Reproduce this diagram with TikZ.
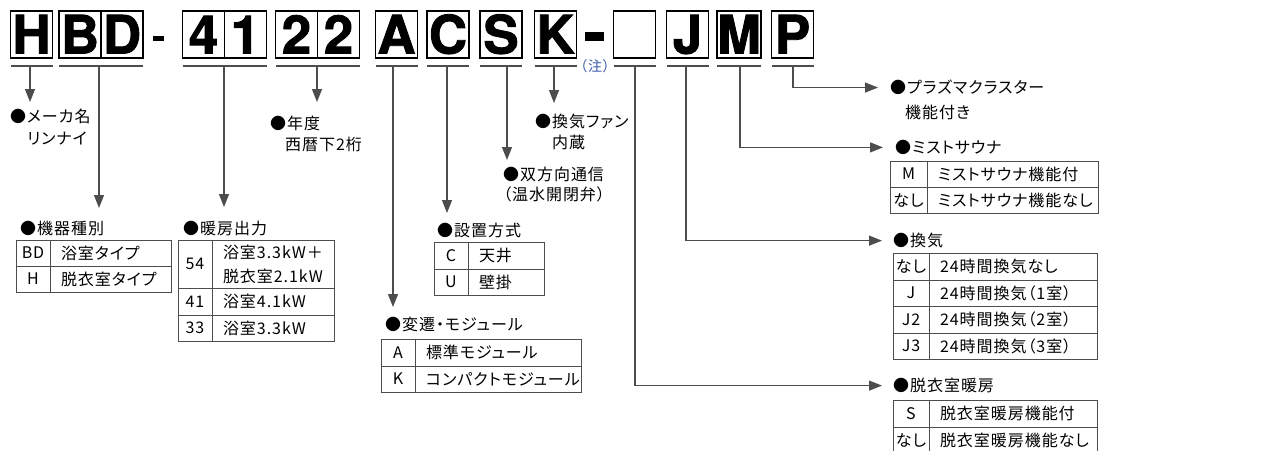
\documentclass[tikz,border=0pt]{standalone}
\usepackage{fontspec}
\setmainfont{Noto Sans CJK JP}[RawFeature=+palt, LetterSpace=6]
\newfontfamily\codefont{TeX Gyre Heros}[BoldFeatures={FakeBold=1.6}]
\usetikzlibrary{arrows.meta, positioning, calc}
\definecolor{leadgray}{HTML}{4D4D4D}
\definecolor{notecolor}{HTML}{3A5BA8}
\tikzstyle{codebox} = [draw, line width=1.4pt, outer sep=0pt, inner sep=0pt,
   minimum width=42pt, minimum height=47pt, text height=38pt, text depth=0pt,
   font=\codefont\bfseries\fontsize{53}{53}\selectfont]
\tikzstyle{uline} = [leadgray, line width=1.6pt]
\tikzstyle{lead} = [leadgray, line width=1.1pt, -{Triangle[width=10pt,length=13pt]}]
\tikzstyle{lbl} = [inner sep=0pt, anchor=north west, font=\fontsize{16}{23}\selectfont]
\tikzstyle{keycell} = [draw=leadgray, line width=1pt, outer sep=0pt, inner sep=0pt,
   minimum width=34pt, minimum height=26pt, anchor=north west,
   font=\fontsize{16}{24}\selectfont]
\tikzstyle{valcell} = [draw=leadgray, line width=1pt, outer sep=0pt, inner xsep=11pt,
   inner ysep=0pt, minimum height=26pt, align=left, font=\fontsize{16}{24}\selectfont]
\begin{document}
\begin{tikzpicture}[x=1pt, y=-1pt]
  \useasboundingbox (0,0) rectangle (1265,450);
  % model code
  \node[codebox] (cH) at (31.5,34.5) {H};
  \node[codebox] (cB) at (80,34.5) {B};
  \node[codebox, right=0pt of cB] (cD) {D};
  \node[fill=black, inner sep=0pt, minimum width=11pt, minimum height=5pt] (sep1) at (158.5,38) {};
  \node[codebox] (c4) at (203.5,34.5) {4};
  \node[codebox, right=0pt of c4] (c1) {1};
  \node[codebox] (c2a) at (296.5,34.5) {2};
  \node[codebox, right=0pt of c2a] (c2b) {2};
  \node[codebox] (cA) at (396.5,34.5) {A};
  \node[codebox] (cC) at (448,34.5) {C};
  \node[codebox] (cS) at (501,34.5) {S};
  \node[codebox] (cK) at (555.5,34.5) {K};
  \node[fill=black, inner sep=0pt, minimum width=19pt, minimum height=9pt] (sep2) at (594.5,36.5) {};
  \node[codebox] (cBlank) at (634.5,34.5) {};
  \node[codebox] (cJ) at (687.5,34.5) {J};
  \node[codebox] (cM) at (739,34.5) {M};
  \node[codebox] (cP) at (792.5,34.5) {P};
  \node[inner sep=0pt, text=notecolor, font=\fontsize{14}{14}\selectfont] (note) at (595,66) {（注）};

  % underlines
  \draw[uline] ([yshift=-8pt]cH.south west) -- ([yshift=-8pt]cH.south east);
  \draw[uline] ([yshift=-8pt]cB.south west) -- ([yshift=-8pt]cD.south east);
  \draw[uline] ([yshift=-8pt]c4.south west) -- ([yshift=-8pt]c1.south east);
  \draw[uline] ([yshift=-8pt]c2a.south west) -- ([yshift=-8pt]c2b.south east);
  \foreach \c in {cA,cC,cS,cK,cBlank,cJ,cM,cP}
    \draw[uline] ([yshift=-8pt]\c.south west) -- ([yshift=-8pt]\c.south east);

  \coordinate (uH) at (30,66);
  \coordinate (uBD) at (99,66);
  \coordinate (u41) at (224,66);
  \coordinate (u22) at (317,66);
  \coordinate (uA) at (393,66);
  \coordinate (uC) at (447,66);
  \coordinate (uS) at (507,66);
  \coordinate (uK) at (554,66);
  \coordinate (uBlank) at (635,66);
  \coordinate (uJ) at (686,66);
  \coordinate (uM) at (740,66);
  \coordinate (uP) at (793,66);

  % plain labels
  \node[lbl] (makerLbl) at (10,109) {●メーカ名};
  \node[lbl] (makerLbl2) at (27,132) {リンナイ};
  \node[lbl] (yearLbl) at (270,116) {●年度};
  \node[lbl] (yearLbl2) at (285,137) {西暦下2桁};
  \node[lbl] (fanLbl) at (535,114) {●換気ファン};
  \node[lbl] (fanLbl2) at (552,135) {内蔵};
  \node[lbl] (commLbl) at (503,167) {●双方向通信};
  \node[lbl] (commLbl2) at (503,187) {（温水開閉弁）};
  \node[lbl] (plasmaLbl) at (890,80) {●プラズマクラスター};
  \node[lbl] (plasmaLbl2) at (905,105) {機能付き};

  % table: kiki
  \node[lbl] (kikiLbl) at (20,221) {●機器種別};
  \node[keycell] (kikiK1) at (16,240) {BD};
  \node[valcell, text width=99pt, right=0pt of kikiK1] (kikiV1) {浴室タイプ};
  \node[keycell, below=0pt of kikiK1] (kikiK2) {H};
  \node[valcell, text width=99pt, right=0pt of kikiK2] (kikiV2) {脱衣室タイプ};

  % table: danbo
  \node[lbl] (danboLbl) at (183,221) {●暖房出力};
  \node[keycell, minimum height=48pt] (danboK1) at (178,240) {54};
  \node[valcell, text width=100pt, minimum height=48pt, right=0pt of danboK1] (danboV1) {浴室3.3kW＋\\脱衣室2.1kW};
  \node[keycell, minimum height=27pt, below=0pt of danboK1] (danboK2) {41};
  \node[valcell, text width=100pt, minimum height=27pt, right=0pt of danboK2] (danboV2) {浴室4.1kW};
  \node[keycell, below=0pt of danboK2] (danboK3) {33};
  \node[valcell, text width=100pt, right=0pt of danboK3] (danboV3) {浴室3.3kW};

  % table: setchi
  \node[lbl] (setchiLbl) at (437,223) {●設置方式};
  \node[keycell, minimum height=27pt] (setchiK1) at (434,242) {C};
  \node[valcell, text width=54pt, minimum height=27pt, right=0pt of setchiK1] (setchiV1) {天井};
  \node[keycell, below=0pt of setchiK1] (setchiK2) {U};
  \node[valcell, text width=54pt, right=0pt of setchiK2] (setchiV2) {壁掛};

  % table: hensen
  \node[lbl] (hensenLbl) at (385,317) {●変遷・モジュール};
  \node[keycell, minimum height=27pt] (hensenK1) at (381,339) {A};
  \node[valcell, text width=144pt, minimum height=27pt, right=0pt of hensenK1] (hensenV1) {標準モジュール};
  \node[keycell, below=0pt of hensenK1] (hensenK2) {K};
  \node[valcell, text width=144pt, right=0pt of hensenK2] (hensenV2) {コンパクトモジュール};

  % table: mist
  \node[lbl] (mistLbl) at (895,140) {●ミストサウナ};
  \node[keycell, minimum width=37pt] (mistK1) at (890,161) {M};
  \node[valcell, text width=149pt, right=0pt of mistK1] (mistV1) {ミストサウナ機能付};
  \node[keycell, minimum width=37pt, below=0pt of mistK1] (mistK2) {なし};
  \node[valcell, text width=149pt, right=0pt of mistK2] (mistV2) {ミストサウナ機能なし};

  % table: kanki
  \node[lbl] (kankiLbl) at (893,233) {●換気};
  \node[keycell, minimum width=36pt, minimum height=27pt] (kankiK1) at (893,253) {なし};
  \node[valcell, text width=146pt, minimum height=27pt, right=0pt of kankiK1] (kankiV1) {24時間換気なし};
  \node[keycell, minimum width=36pt, below=0pt of kankiK1] (kankiK2) {J};
  \node[valcell, text width=146pt, right=0pt of kankiK2] (kankiV2) {24時間換気（1室）};
  \node[keycell, minimum width=36pt, minimum height=27pt, below=0pt of kankiK2] (kankiK3) {J2};
  \node[valcell, text width=146pt, minimum height=27pt, right=0pt of kankiK3] (kankiV3) {24時間換気（2室）};
  \node[keycell, minimum width=36pt, below=0pt of kankiK3] (kankiK4) {J3};
  \node[valcell, text width=146pt, right=0pt of kankiK4] (kankiV4) {24時間換気（3室）};

  % table: datsui
  \node[lbl] (datsuiLbl) at (893,378) {●脱衣室暖房};
  \node[keycell, minimum width=36pt, minimum height=27pt] (datsuiK1) at (893,400) {S};
  \node[valcell, text width=146pt, minimum height=27pt, right=0pt of datsuiK1] (datsuiV1) {脱衣室暖房機能付};
  \node[keycell, minimum width=36pt, minimum height=27pt, below=0pt of datsuiK1] (datsuiK2) {なし};
  \node[valcell, text width=146pt, minimum height=27pt, right=0pt of datsuiK2] (datsuiV2) {脱衣室暖房機能なし};

  % leads
  \draw[lead] (uH) -- ($(uH |- makerLbl.north)+(0,-7)$);
  \draw[lead] (uBD) -- ($(uBD |- kikiLbl.north)+(0,-13)$);
  \draw[lead] (u41) -- ($(u41 |- danboLbl.north)+(0,-14)$);
  \draw[lead] (u22) -- ($(u22 |- yearLbl.north)+(0,-14)$);
  \draw[lead] (uA) -- ($(uA |- hensenLbl.north)+(0,-10)$);
  \draw[lead] (uC) -- ($(uC |- setchiLbl.north)+(0,-10)$);
  \draw[lead] (uS) -- ($(uS |- commLbl.north)+(0,-7)$);
  \draw[lead] (uK) -- ($(uK |- fanLbl.north)+(0,-11)$);
  \draw[lead] (uBlank) |- ($(datsuiLbl.west)+(-11,0)$);
  \draw[lead] (uJ) |- ($(kankiLbl.west)+(-11,0)$);
  \draw[lead] (uM) |- ($(mistLbl.west)+(-12,0)$);
  \draw[lead] (uP) |- ($(plasmaLbl.west)+(-12,0)$);
\end{tikzpicture}
\end{document}
